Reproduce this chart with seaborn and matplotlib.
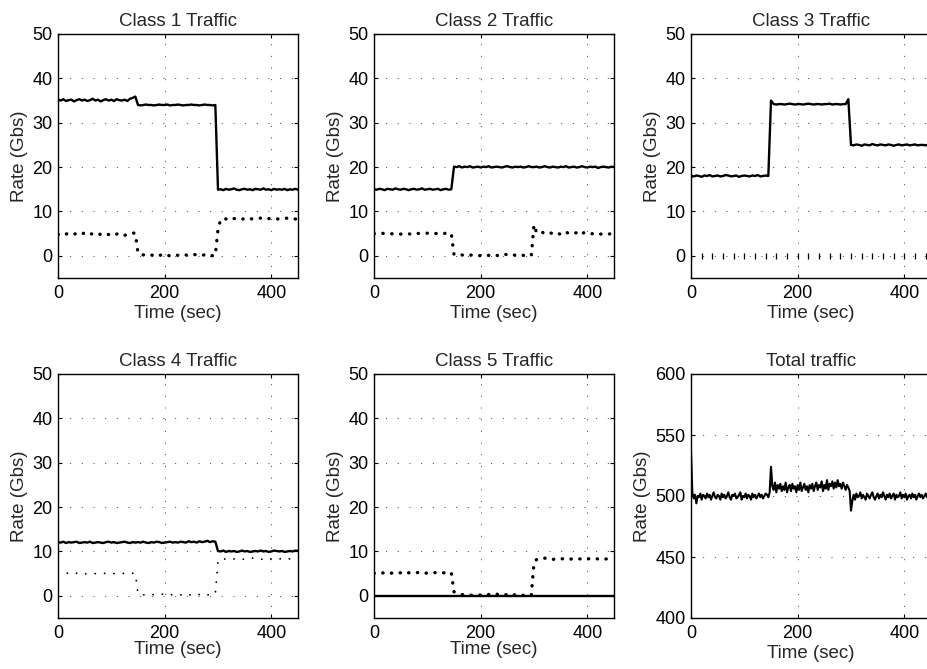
import numpy as np
import matplotlib
matplotlib.use("Agg")
import matplotlib.pyplot as plt
import seaborn as sns

# ---------------- data (classes sampled every 5 s, total every 2.5 s) ----------------
time = np.arange(0, 451, 5)
time_fine = np.arange(0, 450.1, 2.5)

c1_solid = [35.2, 35.0, 35.3, 34.9, 35.1, 35.2, 34.8, 35.1, 35.3, 35.0, 35.2, 34.9, 35.1, 35.4, 35.0,
            35.2, 34.8, 35.1, 35.3, 35.0, 35.2, 34.9, 35.3, 35.1, 35.0, 35.2, 34.9, 35.4, 35.6, 35.9,
            34.0, 33.9, 34.0, 34.1, 34.0, 34.0, 33.9, 34.0, 34.1, 34.0, 34.0, 34.1, 33.9, 34.0, 34.0,
            34.1, 34.0, 33.9, 34.0, 34.0, 34.1, 34.0, 34.0, 33.9, 34.0, 34.1, 34.0, 34.0, 33.9, 34.0,
            14.9, 15.0, 14.8, 15.1, 14.9, 15.0, 15.2, 14.9, 14.8, 15.0, 15.1, 14.9, 15.0, 14.8, 15.1,
            15.0, 14.9, 15.2, 14.9, 15.0, 14.8, 15.1, 14.9, 15.0, 14.9, 15.1, 14.8, 15.0, 14.9, 15.1, 14.9]
c1_dot = [4.8, 5.0, 4.7, 4.9, 5.1, 4.8, 4.9, 5.0, 4.7, 4.9, 5.2, 4.8, 5.0, 4.9, 4.7,
          5.0, 4.8, 5.1, 4.9, 4.8, 5.0, 4.7, 4.9, 5.1, 4.8, 4.6, 4.9, 5.0, 5.2, 5.0,
          0.6, 0.4, 0.2, 0.3, 0.1, 0.2, 0.0, 0.3, 0.1, 0.2, 0.4, 0.1, 0.0, 0.2, 0.3,
          0.1, 0.2, 0.4, 0.2, 0.0, 0.1, 0.3, 0.2, 0.1, 0.0, 0.3, 0.1, 0.2, 0.0, 0.1,
          6.0, 8.2, 8.4, 8.3, 8.5, 8.2, 8.4, 8.3, 8.4, 8.2, 8.5, 8.3, 8.4, 8.3, 8.2,
          8.4, 8.5, 8.3, 8.2, 8.4, 8.3, 8.5, 8.4, 8.2, 8.3, 8.4, 8.5, 8.3, 8.4, 8.3, 8.4]

c2_solid = [15.0, 14.9, 15.1, 15.0, 14.8, 15.1, 15.0, 14.9, 15.2, 15.0, 14.9, 15.1, 15.0, 14.8, 15.0,
            15.1, 14.9, 15.0, 15.2, 14.9, 15.0, 15.1, 14.9, 15.0, 15.1, 14.8, 15.0, 15.1, 14.9, 15.0,
            20.1, 20.0, 20.2, 19.9, 20.1, 20.0, 20.2, 19.9, 20.0, 20.1, 19.9, 20.1, 20.0, 20.2, 19.9,
            20.0, 20.1, 20.0, 19.9, 20.1, 20.2, 20.0, 19.9, 20.1, 20.0, 20.1, 19.9, 20.0, 20.2, 20.0,
            20.0, 20.1, 19.9, 20.0, 20.2, 20.0, 19.9, 20.1, 20.0, 19.9, 20.1, 20.0, 20.2, 19.9, 20.0,
            20.1, 19.9, 20.0, 20.2, 20.0, 19.9, 20.1, 20.0, 20.1, 19.8, 20.0, 20.1, 20.0, 19.9, 20.1, 20.0]
c2_dot = [5.0, 5.0, 4.9, 5.1, 5.0, 5.0, 4.9, 5.0, 5.1, 5.0, 4.9, 5.0, 5.1, 5.0, 4.8,
          5.0, 5.1, 5.0, 4.9, 5.0, 5.1, 4.9, 5.0, 5.0, 5.1, 4.9, 5.0, 5.1, 5.0, 5.0,
          0.3, 0.2, 0.1, 0.2, 0.0, 0.1, 0.2, 0.1, 0.0, -0.1, 0.1, 0.2, 0.0, 0.1, 0.2,
          0.3, 0.1, 0.0, 0.2, 0.4, 0.2, 0.1, 0.3, 0.1, 0.0, 0.2, 0.1, 0.0, -0.1, 0.1,
          7.0, 5.2, 5.0, 5.3, 5.1, 4.9, 5.2, 5.0, 5.3, 5.1, 4.8, 5.2, 5.4, 5.0, 4.9,
          5.1, 5.2, 4.7, 5.0, 5.3, 5.1, 4.9, 5.0, 5.2, 5.1, 4.9, 5.0, 5.1, 4.9, 5.0, 4.9]

c3_solid = [18.0, 17.9, 18.1, 18.0, 17.8, 18.1, 18.0, 18.2, 17.9, 18.0, 18.1, 17.9, 18.0, 18.2, 18.1,
            17.9, 18.0, 18.1, 17.8, 18.0, 18.1, 18.0, 17.9, 18.1, 18.0, 18.2, 17.9, 18.0, 18.1, 18.0,
            35.0, 34.2, 34.1, 34.2, 34.2, 34.1, 34.2, 34.3, 34.2, 34.1, 34.2, 34.2, 34.1, 34.2, 34.3,
            34.2, 34.1, 34.2, 34.2, 34.1, 34.2, 34.2, 34.3, 34.1, 34.2, 34.2, 34.1, 34.2, 34.2, 35.3,
            25.0, 24.9, 25.1, 25.0, 24.8, 25.1, 25.0, 24.9, 25.2, 25.0, 24.9, 25.1, 25.0, 24.9, 25.1,
            25.0, 24.8, 25.0, 25.1, 24.9, 25.0, 25.1, 24.9, 25.0, 25.1, 24.9, 25.0, 25.0, 24.9, 25.1, 25.0]
c3_dot = [0.0, 0.0, 0.0, 0.0, 0.0, 0.0, 0.0, 0.0, 0.0, 0.0, 0.0, 0.0, 0.0, 0.0, 0.0,
          0.0, 0.0, 0.0, 0.0, 0.0, 0.0, 0.0, 0.0, 0.0, 0.0, 0.0, 0.0, 0.0, 0.0, 0.0,
          0.0, 0.0, 0.0, 0.0, 0.0, 0.0, 0.0, 0.0, 0.0, 0.0, 0.0, 0.0, 0.0, 0.0, 0.0,
          0.0, 0.0, 0.0, 0.0, 0.0, 0.0, 0.0, 0.0, 0.0, 0.0, 0.0, 0.0, 0.0, 0.0, 0.0,
          0.0, 0.0, 0.0, 0.0, 0.0, 0.0, 0.0, 0.0, 0.0, 0.0, 0.0, 0.0, 0.0, 0.0, 0.0,
          0.0, 0.0, 0.0, 0.0, 0.0, 0.0, 0.0, 0.0, 0.0, 0.0, 0.0, 0.0, 0.0, 0.0, 0.0, 0.0]

c4_solid = [12.1, 12.0, 12.2, 11.9, 12.1, 12.0, 12.1, 12.2, 11.9, 12.0, 12.1, 12.0, 12.2, 11.9, 12.0,
            12.1, 12.0, 11.9, 12.1, 12.2, 12.0, 12.1, 11.9, 12.0, 12.1, 12.2, 12.0, 11.9, 12.1, 12.0,
            12.1, 12.0, 12.2, 12.0, 11.9, 12.1, 12.0, 12.2, 12.1, 11.9, 12.0, 12.1, 12.2, 12.0, 12.1,
            12.0, 12.2, 12.1, 12.0, 12.3, 12.1, 12.2, 12.0, 12.3, 12.1, 12.2, 12.4, 12.1, 12.3, 12.2,
            10.1, 10.0, 10.2, 9.9, 10.1, 10.0, 10.1, 9.9, 10.0, 10.2, 10.0, 10.1, 9.9, 10.0, 10.1,
            10.0, 10.2, 10.0, 10.1, 9.9, 10.0, 10.2, 10.1, 10.0, 10.1, 9.9, 10.0, 10.1, 10.0, 10.2, 10.1]
c4_dot = [5.0, 5.1, 4.9, 5.0, 5.2, 5.0, 4.9, 5.1, 5.0, 5.2, 5.0, 4.9, 5.0, 5.1, 5.0,
          4.9, 5.0, 5.1, 5.0, 4.9, 5.1, 5.0, 5.0, 4.9, 5.1, 5.0, 4.9, 5.0, 5.1, 5.0,
          0.5, 0.3, 0.2, 0.3, 0.1, 0.2, 0.3, 0.1, 0.2, 0.4, 0.2, 0.1, 0.3, 0.2, 0.1,
          0.3, 0.2, 0.4, 0.2, 0.1, 0.3, 0.5, 0.2, 0.3, 0.1, 0.4, 0.2, 0.3, 0.2, 0.5,
          7.8, 8.3, 8.4, 8.2, 8.3, 8.5, 8.3, 8.2, 8.4, 8.3, 8.2, 8.4, 8.3, 8.5, 8.3,
          8.4, 8.2, 8.3, 8.6, 8.4, 8.3, 8.5, 8.4, 8.3, 8.4, 8.6, 8.4, 8.3, 8.5, 8.4, 8.4]

c5_solid = [0.0, 0.0, 0.0, 0.0, 0.0, 0.0, 0.0, 0.0, 0.0, 0.0, 0.0, 0.0, 0.0, 0.0, 0.0,
            0.0, 0.0, 0.0, 0.0, 0.0, 0.0, 0.0, 0.0, 0.0, 0.0, 0.0, 0.0, 0.0, 0.0, 0.0,
            0.0, 0.0, 0.0, 0.0, 0.0, 0.0, 0.0, 0.0, 0.0, 0.0, 0.0, 0.0, 0.0, 0.0, 0.0,
            0.0, 0.0, 0.0, 0.0, 0.0, 0.0, 0.0, 0.0, 0.0, 0.0, 0.0, 0.0, 0.0, 0.0, 0.0,
            0.0, 0.0, 0.0, 0.0, 0.0, 0.0, 0.0, 0.0, 0.0, 0.0, 0.0, 0.0, 0.0, 0.0, 0.0,
            0.0, 0.0, 0.0, 0.0, 0.0, 0.0, 0.0, 0.0, 0.0, 0.0, 0.0, 0.0, 0.0, 0.0, 0.0, 0.0]
c5_dot = [5.1, 5.0, 5.2, 5.1, 5.3, 5.2, 5.0, 5.2, 5.3, 5.1, 5.2, 5.4, 5.1, 5.2, 5.0,
          5.1, 5.2, 5.3, 5.1, 5.0, 5.2, 5.1, 5.3, 5.2, 5.0, 5.1, 5.2, 5.1, 5.0, 5.2,
          0.9, 0.6, 0.4, 0.3, 0.2, 0.3, 0.1, 0.2, 0.3, 0.1, 0.2, 0.0, 0.2, 0.3, 0.1,
          0.2, 0.4, 0.2, 0.1, 0.3, 0.2, 0.5, 0.3, 0.2, 0.4, 0.2, 0.1, 0.3, 0.2, 0.1,
          7.5, 8.2, 8.4, 8.3, 8.5, 8.3, 8.4, 8.2, 8.3, 8.5, 8.4, 8.3, 8.4, 8.2, 8.3,
          8.4, 8.5, 8.3, 8.4, 8.6, 8.4, 8.3, 8.5, 8.4, 8.3, 8.4, 8.5, 8.3, 8.4, 8.5, 8.4]

total = [537, 503, 498, 501, 494, 500, 499, 502, 497, 501,
         500, 498, 502, 499, 501, 497, 500, 503, 499, 498,
         501, 500, 497, 502, 499, 501, 498, 500, 503, 499,
         497, 501, 500, 502, 498, 499, 501, 503, 497, 500,
         499, 502, 498, 501, 500, 497, 502, 499, 501, 498,
         500, 502, 499, 501, 498, 500, 502, 501, 499, 503,
         524, 508, 505, 511, 503, 509, 506, 510, 504, 508,
         505, 511, 503, 507, 509, 504, 510, 506, 508, 503,
         509, 505, 511, 504, 507, 510, 505, 508, 503, 509,
         506, 510, 504, 508, 511, 505, 509, 507, 512, 504,
         509, 506, 513, 505, 510, 508, 512, 506, 511, 507,
         513, 508, 510, 506, 511, 508, 505, 509, 507, 504,
         488, 496, 501, 497, 502, 499, 500, 503, 498, 501,
         499, 497, 502, 500, 498, 501, 503, 499, 497, 500,
         502, 498, 501, 499, 503, 500, 497, 501, 499, 502,
         498, 500, 502, 497, 501, 499, 500, 503, 498, 501,
         499, 502, 497, 500, 501, 498, 502, 499, 501, 497,
         500, 502, 499, 501, 498, 500, 502, 499, 501, 500,
         499]

titles = ["Class 1 Traffic", "Class 2 Traffic", "Class 3 Traffic",
          "Class 4 Traffic", "Class 5 Traffic", "Total traffic"]
class_ticks = [0, 10, 20, 30, 40, 50]
total_ticks = [400, 450, 500, 550, 600]
x_ticks = [0, 200, 400]

# ---------------- style ----------------
sns.set_style("ticks")
plt.rcParams["font.family"] = ["Liberation Sans", "DejaVu Sans"]
plt.rcParams.update({
    "font.size": 13,
    "xtick.direction": "in", "ytick.direction": "in",
    "xtick.top": True, "ytick.right": True,
    "xtick.major.size": 3, "ytick.major.size": 3,
    "xtick.major.width": 0.8, "ytick.major.width": 0.8,
    "xtick.major.pad": 5, "ytick.major.pad": 4,
    "xtick.labelsize": 13, "ytick.labelsize": 13,
    "axes.linewidth": 1.0, "axes.edgecolor": "black",
    "xtick.color": "black", "ytick.color": "black",
    "axes.titlesize": 13.5, "axes.labelsize": 13.5,
})

W, H = 927, 669
fig = plt.figure(figsize=(W / 100, H / 100), dpi=100)
col_left = [58, 374, 691]
row_bottom = [278, 618]
aw, ah = 240, 244

series = [(time, c1_solid, c1_dot, "dot"), (time, c2_solid, c2_dot, "dot"),
          (time, c3_solid, c3_dot, "bar"), (time, c4_solid, c4_dot, "small"),
          (time, c5_solid, c5_dot, "dot"), (time_fine, total, None, None)]

for i, (tx, solid, dot, kind) in enumerate(series):
    r, c = divmod(i, 3)
    ax = fig.add_axes([col_left[c] / W, 1 - row_bottom[r] / H, aw / W, ah / H])
    ax.set_axisbelow(True)
    ax.grid(True, color="0.25", linestyle=(0, (1, 11)), linewidth=0.7)
    sns.lineplot(x=tx, y=solid, ax=ax, color="black",
                 linewidth=(1.5 if i == 5 else 1.7), errorbar=None)
    if dot is not None:
        if kind == "dot":
            sns.lineplot(x=tx, y=dot, ax=ax, color="black", linewidth=2.4, errorbar=None,
                         linestyle=(0, (0.1, 2.6)), dash_capstyle="round")
        elif kind == "small":
            sns.lineplot(x=tx, y=dot, ax=ax, color="black", linewidth=1.3, errorbar=None,
                         linestyle=(0, (0.1, 5.2)), dash_capstyle="round")
        else:
            sns.lineplot(x=tx, y=dot, ax=ax, color="black", linestyle="none", errorbar=None,
                         marker="|", markersize=4, markeredgewidth=0.9,
                         markeredgecolor="black", markevery=4)
    ax.set_xlim(0, 450)
    ax.set_xticks(x_ticks)
    if i == 5:
        ax.set_ylim(400, 600)
        ax.set_yticks(total_ticks)
    else:
        ax.set_ylim(-5, 50)
        ax.set_yticks(class_ticks)
    ax.set_title(titles[i], pad=6)
    ax.set_xlabel("Time (sec)", labelpad=(-1 if (r == 1 and c < 2) else 2))
    ax.set_ylabel("Rate (Gbs)", labelpad=3)
    for s in ax.spines.values():
        s.set_visible(True)
        s.set_color("black")

fig.savefig("out.png", dpi=100)
